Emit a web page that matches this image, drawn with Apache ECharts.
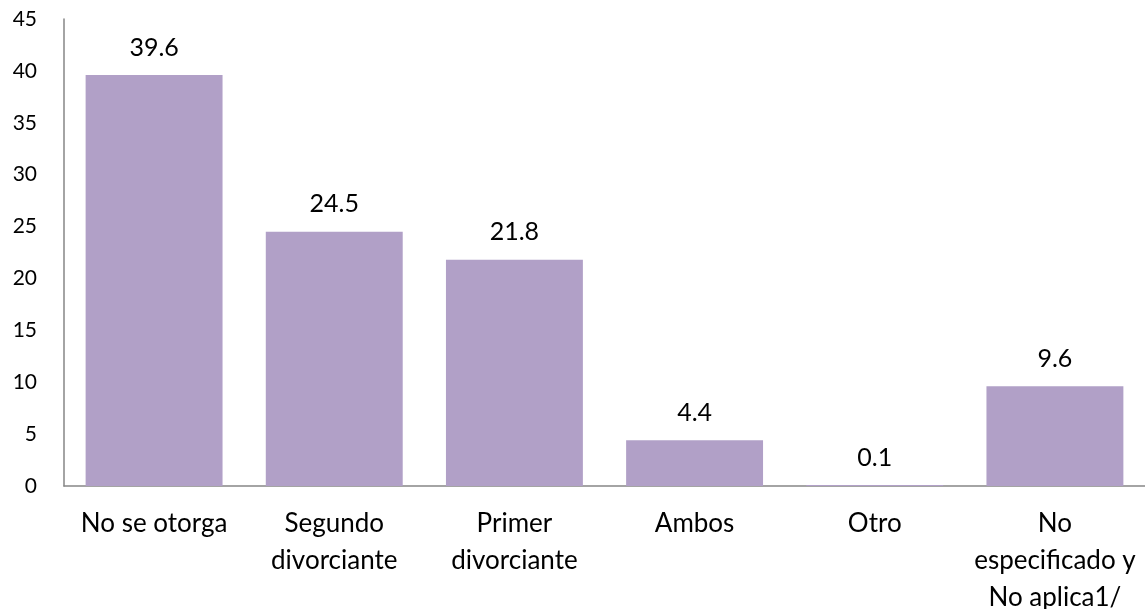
<!DOCTYPE html>
<html>
<head>
<meta charset="utf-8">
<script src="https://cdn.jsdelivr.net/npm/echarts@6/dist/echarts.min.js"></script>
<style>
  html, body { margin: 0; padding: 0; background: #fff; }
  #container { width: 1145px; height: 609px; }
</style>
</head>
<body>
<div id="container"></div>
<script>
var categories = ['No se otorga', 'Segundo\ndivorciante', 'Primer\ndivorciante', 'Ambos', 'Otro', 'No\nespecificado y\nNo aplica1/'];
var values = [39.6, 24.5, 21.8, 4.4, 0.1, 9.6];
var yTicks = [0, 5, 10, 15, 20, 25, 30, 35, 40, 45];

var fontName = 'Lato, "Open Sans", sans-serif';
var myChart = echarts.init(document.getElementById('container'));

var option = {
    animation: false,
    grid: {
        left: 64,
        right: 0,
        top: 19,
        bottom: 123,
        containLabel: false,
        outerBoundsMode: 'none'
    },
    xAxis: {
        type: 'category',
        data: categories,
        axisLine: { lineStyle: { color: '#868686', width: 1.5 } },
        axisTick: { show: false },
        axisLabel: {
            color: '#000',
            fontFamily: fontName,
            fontSize: 26,
            lineHeight: 37,
            margin: 19,
            interval: 0
        }
    },
    yAxis: {
        type: 'value',
        min: yTicks[0],
        max: yTicks[yTicks.length - 1],
        interval: 5,
        axisLine: { show: true, lineStyle: { color: '#868686', width: 1.5 } },
        axisTick: { show: false },
        splitLine: { show: false },
        axisLabel: {
            color: '#000',
            fontFamily: fontName,
            fontSize: 21,
            margin: 27
        }
    },
    series: [{
        type: 'bar',
        data: values,
        barCategoryGap: '24%',
        itemStyle: { color: '#B1A0C7' },
        label: {
            show: true,
            position: 'top',
            distance: 15,
            color: '#000',
            fontFamily: fontName,
            fontSize: 25
        }
    }]
};

myChart.setOption(option);
</script>
</body>
</html>
